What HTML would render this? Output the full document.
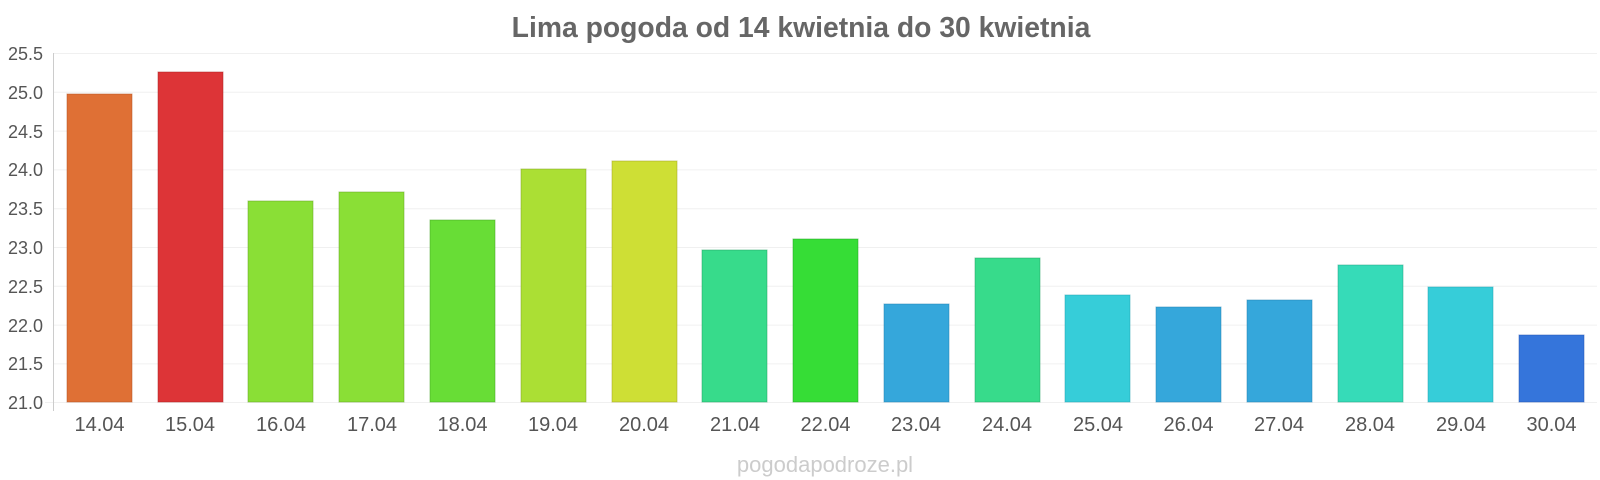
<!DOCTYPE html>
<html><head><meta charset="utf-8"><style>
html,body{margin:0;padding:0;background:#fff;}
svg{display:block;font-family:"Liberation Sans",sans-serif;}
</style></head><body>
<svg width="1600" height="480" xmlns="http://www.w3.org/2000/svg">
<text x="801" y="37" text-anchor="middle" font-size="28.3" font-weight="bold" fill="#666">Lima pogoda od 14 kwietnia do 30 kwietnia</text>
<g stroke="#f0f0f0" stroke-width="1">
<line x1="53" x2="1597" y1="53.5" y2="53.5"/><line x1="53" x2="1597" y1="92.3" y2="92.3"/>
<line x1="53" x2="1597" y1="131.1" y2="131.1"/><line x1="53" x2="1597" y1="169.9" y2="169.9"/>
<line x1="53" x2="1597" y1="208.7" y2="208.7"/><line x1="53" x2="1597" y1="247.5" y2="247.5"/>
<line x1="53" x2="1597" y1="286.3" y2="286.3"/><line x1="53" x2="1597" y1="325.1" y2="325.1"/>
<line x1="53" x2="1597" y1="363.9" y2="363.9"/><line x1="45" x2="1597" y1="402.5" y2="402.5"/>
</g>
<line x1="53.5" x2="53.5" y1="53" y2="411" stroke="#ccc"/>
<g font-size="18" fill="#555" text-anchor="end">
<text x="43" y="60">25.5</text><text x="43" y="99">25.0</text><text x="43" y="138">24.5</text>
<text x="43" y="176">24.0</text><text x="43" y="215">23.5</text><text x="43" y="254">23.0</text>
<text x="43" y="293">22.5</text><text x="43" y="332">22.0</text><text x="43" y="370">21.5</text>
<text x="43" y="409">21.0</text>
</g>
<g stroke-width="1" stroke-opacity="0.5">
<rect x="67" y="94" width="65" height="308" fill="#df7035" stroke="#b0501f"/>
<rect x="158" y="72" width="65" height="330" fill="#dd3437" stroke="#a82020"/>
<rect x="248" y="201" width="65" height="201" fill="#8adf36" stroke="#60a020"/>
<rect x="339" y="192" width="65" height="210" fill="#8adf36" stroke="#60a020"/>
<rect x="430" y="220" width="65" height="182" fill="#68dd36" stroke="#40a020"/>
<rect x="521" y="169" width="65" height="233" fill="#abdf34" stroke="#80a020"/>
<rect x="612" y="161" width="65" height="241" fill="#cedf35" stroke="#a0a020"/>
<rect x="702" y="250" width="65" height="152" fill="#37db8b" stroke="#20a060"/>
<rect x="793" y="239" width="65" height="163" fill="#36dd36" stroke="#20a020"/>
<rect x="884" y="304" width="65" height="98" fill="#35a7db" stroke="#2080b0"/>
<rect x="975" y="258" width="65" height="144" fill="#37db8b" stroke="#20a060"/>
<rect x="1065" y="295" width="65" height="107" fill="#36cdd9" stroke="#20a0b0"/>
<rect x="1156" y="307" width="65" height="95" fill="#35a7db" stroke="#2080b0"/>
<rect x="1247" y="300" width="65" height="102" fill="#35a7db" stroke="#2080b0"/>
<rect x="1338" y="265" width="65" height="137" fill="#36dbb8" stroke="#20a080"/>
<rect x="1428" y="287" width="65" height="115" fill="#36cdd9" stroke="#20a0b0"/>
<rect x="1519" y="335" width="65" height="67" fill="#3575db" stroke="#2050b0"/>
</g>
<g font-size="20" fill="#555" text-anchor="middle">
<text x="99.5" y="431">14.04</text><text x="190" y="431">15.04</text><text x="281" y="431">16.04</text>
<text x="372" y="431">17.04</text><text x="462.5" y="431">18.04</text><text x="553" y="431">19.04</text>
<text x="644" y="431">20.04</text><text x="735" y="431">21.04</text><text x="825.5" y="431">22.04</text>
<text x="916" y="431">23.04</text><text x="1007" y="431">24.04</text><text x="1098" y="431">25.04</text>
<text x="1188.5" y="431">26.04</text><text x="1279" y="431">27.04</text><text x="1370" y="431">28.04</text>
<text x="1461" y="431">29.04</text><text x="1551.5" y="431">30.04</text>
</g>
<text x="825" y="472" text-anchor="middle" font-size="22" fill="#ccc">pogodapodroze.pl</text>
</svg>
</body></html>
